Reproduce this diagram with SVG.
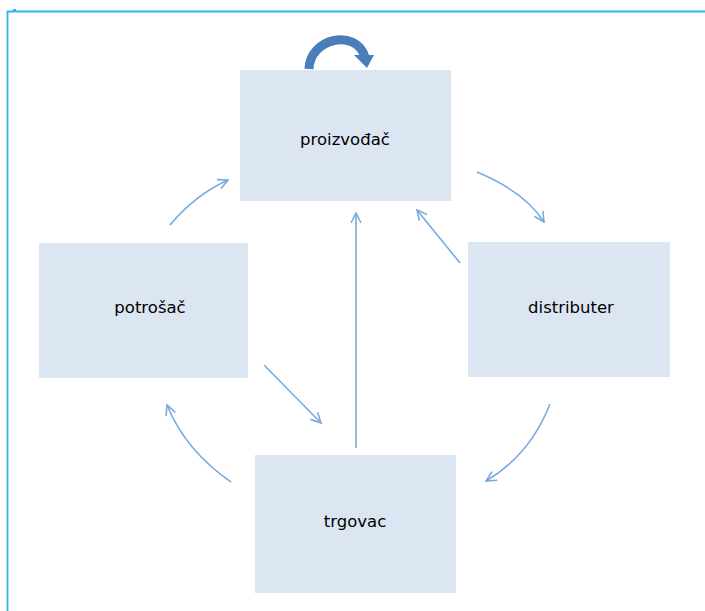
<svg xmlns="http://www.w3.org/2000/svg" width="705" height="611" viewBox="0 0 705 611">
<style>
.box{fill:#dce6f2;}
.lbl{font-family:"DejaVu Sans",Verdana,sans-serif;font-size:16.5px;fill:#000;text-anchor:middle;dominant-baseline:middle;}
.conn{fill:none;stroke:#7aaade;stroke-width:1.6;marker-end:url(#ah);}
</style>
<defs>
<marker id="ah" viewBox="0 0 12 12" refX="11" refY="6" markerWidth="12" markerHeight="12" markerUnits="userSpaceOnUse" orient="auto">
<path d="M1,1 L11,6 L1,11" fill="none" stroke="#7aaade" stroke-width="1.6"/>
</marker>
</defs>
<rect width="705" height="611" fill="#fff"/>
<g id="frame">
<path d="M7.5,611 V11.5 H705" fill="none" stroke="#2fb2f0" stroke-width="1.8"/>
<rect x="13" y="9" width="3" height="2" fill="#2fb2f0"/>
</g>
<g id="n-proizvodac"><rect class="box" x="240" y="70" width="211" height="131"/><text class="lbl" x="345" y="140">proizvođač</text></g>
<g id="n-potrosac"><rect class="box" x="39" y="243" width="209" height="135"/><text class="lbl" x="150" y="308">potrošač</text></g>
<g id="n-distributer"><rect class="box" x="468" y="242" width="202" height="135"/><text class="lbl" x="571" y="308">distributer</text></g>
<g id="n-trgovac"><rect class="box" x="255" y="455" width="201" height="138"/><text class="lbl" x="355" y="522">trgovac</text></g>
<g id="self-loop">
<path d="M309,69 C310,38 356,28 365,57" fill="none" stroke="#4a7ebb" stroke-width="9"/>
<path d="M354,55 L374,55 L367,68 Z" fill="#4a7ebb"/>
</g>
<g id="connectors">
<path class="conn" d="M170,225 Q195,195 228,180"/>
<path class="conn" d="M477,172 Q525,192 544,222"/>
<path class="conn" d="M460,263 L417,210"/>
<path class="conn" d="M264,365 L321,423"/>
<path class="conn" d="M356,448 V213"/>
<path class="conn" d="M231,482 Q185,450 167,405"/>
<path class="conn" d="M550,404 Q530,455 486,481"/>
</g>
</svg>
